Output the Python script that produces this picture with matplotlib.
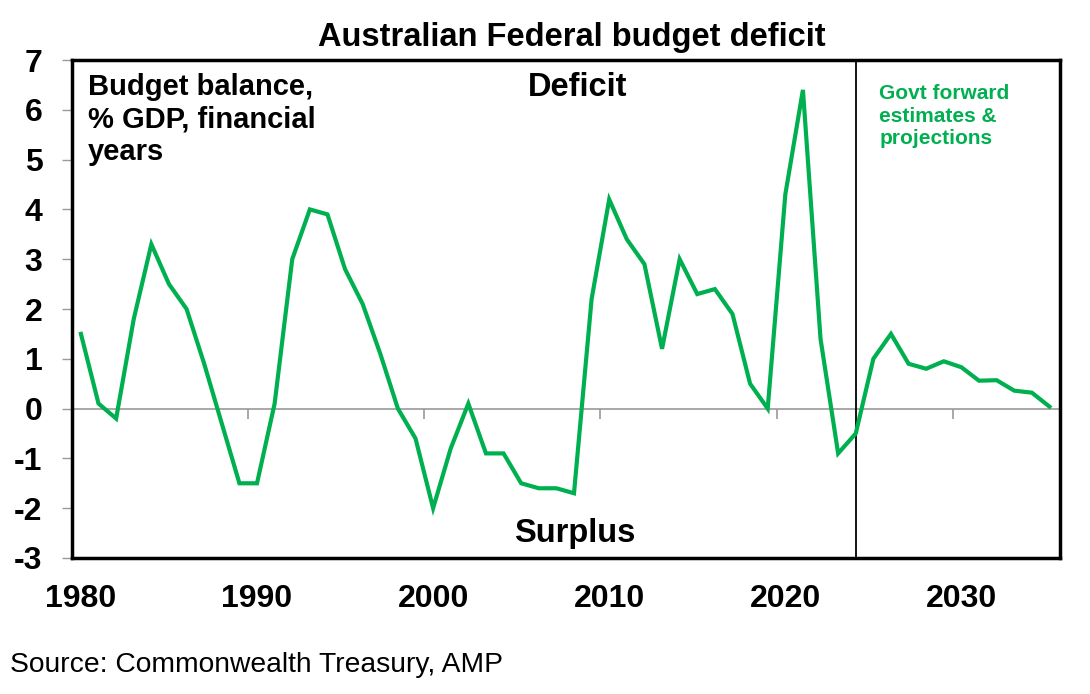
import numpy as np
import matplotlib
matplotlib.use("Agg")
import matplotlib.pyplot as plt

plt.rcParams['font.family'] = ['Liberation Sans', 'DejaVu Sans']

# budget balance, % of GDP (deficit positive), financial years
years = list(range(1980, 2036))
balance = [1.5, 0.1, -0.2, 1.8, 3.3, 2.5, 2.0, 0.9, -0.3, -1.5,
           -1.5, 0.1, 3.0, 4.0, 3.9, 2.8, 2.1, 1.1, 0.0, -0.6,
           -2.0, -0.8, 0.1, -0.9, -0.9, -1.5, -1.6, -1.6, -1.7, 2.2,
           4.2, 3.4, 2.9, 1.2, 3.0, 2.3, 2.4, 1.9, 0.5, 0.0,
           4.3, 6.4, 1.4, -0.9, -0.5, 1.0, 1.5, 0.9, 0.8, 0.95,
           0.83, 0.56, 0.57, 0.36, 0.32, 0.04]
forecast_start = 2024
x_labels = [1980, 1990, 2000, 2010, 2020, 2030]
y_ticks = [-3, -2, -1, 0, 1, 2, 3, 4, 5, 6, 7]

green = '#00B050'

fig = plt.figure(figsize=(10.9, 6.94), dpi=100)
ax = fig.add_axes([0.066, 0.196, 0.9065, 0.7175])

ax.plot(years, balance, color=green, lw=3.0, solid_joinstyle='miter', zorder=3)
ax.axhline(0, color='#9a9a9a', lw=1.2, zorder=1)
# small tick marks hanging off the zero line between decades
ax.vlines([x - 0.5 for x in x_labels[1:]], -0.2, 0, color='#9a9a9a', lw=1.2, zorder=1)
ax.axvline(forecast_start, color='black', lw=1.3, zorder=2)

ax.set_xlim(1979.49, 2035.6)
ax.set_ylim(-3, 7)
ax.set_xticks(x_labels)
ax.set_xticklabels([str(x) for x in x_labels])
ax.set_yticks(y_ticks)
ax.set_yticklabels([str(y) for y in y_ticks])
ax.tick_params(axis='x', length=0, pad=19, labelsize=23)
ax.tick_params(axis='y', length=7.2, width=1, color='#9a9a9a', pad=14, labelsize=23)
for lab in ax.get_xticklabels() + ax.get_yticklabels():
    lab.set_fontweight('bold')

for sp in ax.spines.values():
    sp.set_linewidth(2.5)
    sp.set_color('black')

ax.text(0.016, 0.974, 'Budget balance,\n% GDP, financial\nyears', transform=ax.transAxes,
        ha='left', va='top', fontsize=21, fontweight='bold', linespacing=1.2)
ax.text(0.512, 0.944, 'Deficit', transform=ax.transAxes, ha='center', va='center',
        fontsize=23.5, fontweight='bold')
ax.text(0.509, 0.05, 'Surplus', transform=ax.transAxes, ha='center', va='center',
        fontsize=23.5, fontweight='bold')
ax.text(0.817, 0.952, 'Govt forward\nestimates &\nprojections', transform=ax.transAxes,
        ha='left', va='top', fontsize=15, fontweight='bold', color=green, linespacing=1.25)

fig.text(0.525, 0.946, 'Australian Federal budget deficit', ha='center', va='center',
         fontsize=23.5, fontweight='bold')
fig.text(0.009, 0.042, 'Source: Commonwealth Treasury, AMP', ha='left', va='center',
         fontsize=20.3)

fig.savefig('out.png', dpi=100)
